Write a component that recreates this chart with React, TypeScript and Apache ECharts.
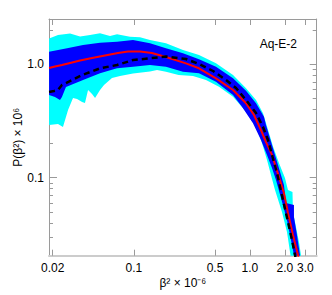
import React, { useEffect, useRef } from "react";
import * as echarts from "echarts";

// ---- axis ranges and ticks (data units) ----
const xRange = [0.01857, 3.76];
const yRange = [0.0205, 2.51];
const xTicks = [0.02, 0.1, 0.5, 1.0, 2.0, 3.0];
const xTickLabels = ["0.02", "0.1", "0.5", "1.0", "2.0", "3.0"];
const yMajorTicks = [0.1, 1.0];
const yMajorLabels = ["0.1", "1.0"];
const yMinorTicks = [0.03, 0.04, 0.05, 0.06, 0.07, 0.08, 0.09, 0.2, 0.3, 0.4, 0.5, 0.6, 0.7, 0.8, 0.9, 2.0];

// ---- curves: [beta^2 x 1e-6, P x 1e6] ----
const medianCurve: [number, number][] = [
  [0.0186, 0.928], [0.0209, 0.956], [0.024, 0.986], [0.0282, 1.027], [0.0344, 1.08],
  [0.0436, 1.137], [0.0564, 1.196], [0.073, 1.258], [0.0891, 1.297], [0.113, 1.297],
  [0.143, 1.258], [0.189, 1.16], [0.281, 1.02], [0.364, 0.922], [0.51, 0.752],
  [0.715, 0.593], [0.925, 0.453], [1.084, 0.357], [1.245, 0.263], [1.375, 0.206],
  [1.549, 0.159], [1.745, 0.108], [1.964, 0.0733], [2.127, 0.0488], [2.348, 0.0312],
  [2.593, 0.0208], [2.752, 0.016],
];

const modelCurve: [number, number][] = [
  [0.0186, 0.57], [0.0205, 0.582], [0.0222, 0.593], [0.024, 0.657], [0.026, 0.684],
  [0.0358, 0.804], [0.0511, 0.922], [0.0716, 0.986], [0.0983, 1.091], [0.1377, 1.13],
  [0.189, 1.172], [0.281, 1.114], [0.364, 1.006], [0.481, 0.873], [0.622, 0.727],
  [0.759, 0.618], [0.925, 0.484], [1.128, 0.372], [1.296, 0.28], [1.431, 0.215],
  [1.549, 0.159], [1.711, 0.11], [1.926, 0.0636], [2.127, 0.0407], [2.302, 0.0282],
  [2.443, 0.0208], [2.593, 0.016],
];

const outerUpper: [number, number][] = [
  [0.0186, 1.689], [0.0222, 1.813], [0.0282, 1.869], [0.0344, 1.758], [0.0419, 1.813],
  [0.0511, 1.877], [0.0623, 1.776], [0.0716, 1.839], [0.0927, 1.751], [0.113, 1.73],
  [0.1377, 1.637], [0.189, 1.532], [0.265, 1.337], [0.364, 1.208], [0.51, 1.02],
  [0.715, 0.804], [0.925, 0.614], [1.128, 0.484], [1.296, 0.37], [1.459, 0.248],
  [1.58, 0.188], [1.779, 0.135], [2.004, 0.0994], [2.127, 0.0779], [2.326, 0.0748],
  [2.348, 0.0498], [2.443, 0.0407], [2.645, 0.0271], [2.752, 0.0208], [2.863, 0.016],
];

const outerLower: [number, number][] = [
  [0.0186, 0.2915], [0.0222, 0.297], [0.0245, 0.28], [0.0271, 0.395], [0.0299, 0.504],
  [0.0324, 0.494], [0.0358, 0.465], [0.0379, 0.456], [0.0403, 0.593], [0.0436, 0.547],
  [0.0463, 0.504], [0.0511, 0.593], [0.0553, 0.657], [0.0648, 0.757], [0.076, 0.788],
  [0.0983, 0.83], [0.1377, 0.864], [0.1583, 0.891], [0.189, 0.86], [0.243, 0.804],
  [0.323, 0.788], [0.418, 0.727], [0.541, 0.635], [0.715, 0.518], [0.925, 0.382],
  [1.128, 0.2817], [1.27, 0.2023], [1.403, 0.1432], [1.518, 0.1056], [1.644, 0.0779],
  [1.888, 0.0498], [2.085, 0.0332], [2.234, 0.0208], [2.302, 0.016],
];

const innerUpper: [number, number][] = [
  [0.0186, 1.291], [0.0266, 1.384], [0.0365, 1.48], [0.0511, 1.551], [0.0716, 1.582],
  [0.0983, 1.637], [0.1377, 1.532], [0.189, 1.384], [0.265, 1.25], [0.364, 1.107],
  [0.51, 0.952], [0.715, 0.752], [0.925, 0.585], [1.128, 0.453], [1.321, 0.345],
  [1.375, 0.2915], [1.549, 0.194], [1.745, 0.1294], [1.964, 0.0862], [2.044, 0.0598],
  [2.395, 0.0574], [2.395, 0.045], [2.542, 0.0312], [2.698, 0.0208], [2.807, 0.016],
];

const innerLower: [number, number][] = [
  [0.0186, 0.536], [0.0209, 0.515], [0.0231, 0.484], [0.024, 0.515], [0.026, 0.631],
  [0.0365, 0.727], [0.0511, 0.833], [0.0716, 0.922], [0.0983, 0.952], [0.1377, 0.986],
  [0.189, 0.952], [0.265, 0.86], [0.364, 0.833], [0.51, 0.702], [0.715, 0.536],
  [0.854, 0.423], [1.062, 0.302], [1.245, 0.215], [1.403, 0.1586], [1.549, 0.1218],
  [1.677, 0.0954], [1.851, 0.0662], [2.085, 0.0424], [2.257, 0.0282], [2.395, 0.0208],
  [2.492, 0.016],
];

const L = (v: number) => Math.log10(v);
const toLog = (c: [number, number][]) => c.map(([x, y]) => [L(x), L(y)]);

const FONT = "Liberation Sans, Arial, sans-serif";
const AXIS_GRAY = "#9a9a9a";

function labelFor(ticks: number[], labels: string[]) {
  return (v: number) => {
    for (let i = 0; i < ticks.length; i++) {
      if (Math.abs(L(ticks[i]) - v) < 1e-6) return labels[i];
    }
    return "";
  };
}

function band(upper: [number, number][], lower: [number, number][], color: string) {
  const poly = [...upper, ...lower.slice().reverse()];
  return {
    type: "custom",
    coordinateSystem: "cartesian2d",
    xAxisIndex: 0,
    yAxisIndex: 0,
    clip: true,
    silent: true,
    data: [[L(upper[0][0]), L(upper[0][1])]],
    encode: { x: 0, y: 1 },
    renderItem: (_params: any, api: any) => ({
      type: "polygon",
      shape: { points: poly.map(([x, y]) => api.coord([L(x), L(y)])) },
      style: { fill: color, stroke: null },
    }),
  };
}

export default function App() {
  const ref = useRef<HTMLDivElement>(null);
  useEffect(() => {
    if (!ref.current) return;
    const chart = echarts.init(ref.current, undefined, { renderer: "svg" });
    const xMin = L(xRange[0]);
    const xMax = L(xRange[1]);
    const yMin = L(yRange[0]);
    const yMax = L(yRange[1]);
    const xTickVals = xTicks.map(L);
    const yMajVals = yMajorTicks.map(L);
    const yMinVals = yMinorTicks.map(L);

    const baseX = {
      type: "value",
      min: xMin,
      max: xMax,
      splitLine: { show: false },
    };
    const baseY = {
      type: "value",
      min: yMin,
      max: yMax,
      splitLine: { show: false },
    };

    chart.setOption({
      animation: false,
      backgroundColor: "#ffffff",
      textStyle: { fontFamily: FONT },
      grid: { left: 49, right: 15.3, top: 19, bottom: 39.3, containLabel: false, outerBoundsMode: "none" },
      title: {
        text: "Aq-E-2",
        right: 30,
        top: 33,
        textStyle: { fontFamily: FONT, fontSize: 12, fontWeight: "normal", color: "#000" },
      },
      xAxis: [
        {
          ...baseX,
          position: "bottom",
          name: "β² × 10⁻⁶",
          nameLocation: "middle",
          nameGap: 21,
          nameMoveOverlap: false,
          nameTextStyle: { fontFamily: FONT, fontSize: 12, color: "#000" },
          axisLine: { show: true, onZero: false, lineStyle: { color: "#cccccc", width: 2 } },
          axisTick: { show: true, inside: true, length: 6, customValues: xTickVals, lineStyle: { color: AXIS_GRAY } },
          axisLabel: {
            show: true,
            customValues: xTickVals,
            formatter: labelFor(xTicks, xTickLabels),
            fontFamily: FONT,
            fontSize: 12,
            color: "#000",
            margin: 6,
          },
        },
        {
          ...baseX,
          position: "top",
          axisLine: { show: true, onZero: false, lineStyle: { color: AXIS_GRAY, width: 1 } },
          axisTick: { show: true, inside: true, length: 6, customValues: xTickVals, lineStyle: { color: AXIS_GRAY } },
          axisLabel: { show: false },
        },
      ],
      yAxis: [
        {
          ...baseY,
          position: "left",
          name: "P(β²) × 10⁶",
          nameLocation: "middle",
          nameGap: 25,
          nameMoveOverlap: false,
          nameRotate: 90,
          nameTextStyle: { fontFamily: FONT, fontSize: 12, color: "#000" },
          axisLine: { show: true, onZero: false, lineStyle: { color: AXIS_GRAY, width: 1 } },
          axisTick: { show: true, inside: true, length: 8, customValues: yMajVals, lineStyle: { color: AXIS_GRAY } },
          axisLabel: {
            show: true,
            customValues: yMajVals,
            formatter: labelFor(yMajorTicks, yMajorLabels),
            fontFamily: FONT,
            fontSize: 12,
            color: "#000",
            margin: 5,
          },
        },
        {
          ...baseY,
          position: "left",
          axisLine: { show: false, onZero: false },
          axisTick: { show: true, inside: true, length: 4, customValues: yMinVals, lineStyle: { color: AXIS_GRAY } },
          axisLabel: { show: false },
        },
        {
          ...baseY,
          position: "right",
          axisLine: { show: true, onZero: false, lineStyle: { color: AXIS_GRAY, width: 1 } },
          axisTick: { show: true, inside: true, length: 7, customValues: yMajVals, lineStyle: { color: AXIS_GRAY } },
          axisLabel: { show: false },
        },
        {
          ...baseY,
          position: "right",
          axisLine: { show: false, onZero: false },
          axisTick: { show: true, inside: true, length: 4, customValues: yMinVals, lineStyle: { color: AXIS_GRAY } },
          axisLabel: { show: false },
        },
      ],
      series: [
        band(outerUpper, outerLower, "#00ffff"),
        band(innerUpper, innerLower, "#0000ff"),
        {
          type: "line",
          xAxisIndex: 0,
          yAxisIndex: 0,
          data: toLog(medianCurve),
          showSymbol: false,
          symbol: "none",
          silent: true,
          lineStyle: { color: "#ff0000", width: 2 },
        },
        {
          type: "line",
          xAxisIndex: 0,
          yAxisIndex: 0,
          data: toLog(modelCurve),
          showSymbol: false,
          symbol: "none",
          silent: true,
          lineStyle: { color: "#000000", width: 2.5, type: [6, 4] },
        },
      ],
    });
    return () => chart.dispose();
  }, []);
  return (
    <div
      ref={ref}
      style={{ position: "absolute", left: 0, top: 0, width: 332, height: 295, background: "#fff" }}
    />
  );
}
